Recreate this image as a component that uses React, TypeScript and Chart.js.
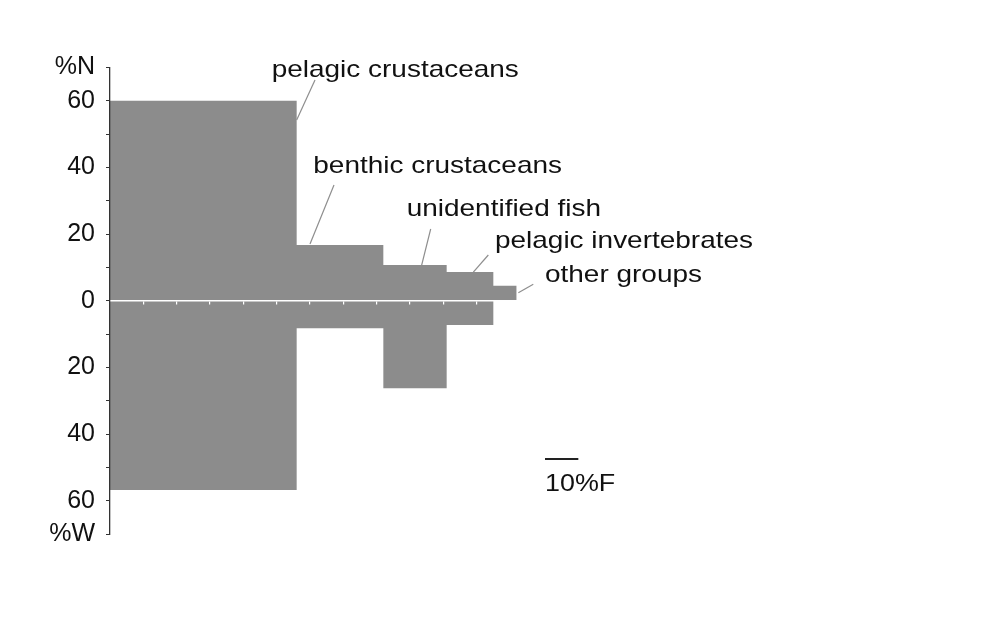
import React, { useEffect, useRef } from 'react';
import { Chart, registerables } from 'chart.js';

Chart.register(...registerables);

// ---- data ----
const categories = [
  'pelagic crustaceans',
  'benthic crustaceans',
  'unidentified fish',
  'pelagic invertebrates',
  'other groups',
];
const freqF = [56, 26, 19, 14, 7]; // %F (bar widths)
const numN = [60, 16.7, 10.7, 8.6, 4.5]; // %N (upwards)
const weightW = [56.8, 8.3, 26.3, 7.3, 0]; // %W (downwards)
const yTickLabels: Record<string, string> = {
  '70': '%N', '60': '60', '40': '40', '20': '20', '0': '0',
  '-20': '20', '-40': '40', '-60': '60', '-70': '%W',
};
const scaleBarF = 10;
const scaleBarLabel = '10%F';

// ---- layout for annotations (canvas px; anchors in data units) ----
const labelLayout = [
  { anchor: [56, 54.2], end: [307, 72], pos: [263.7, 68.5] },
  { anchor: [60, 17.0], end: [326, 177], pos: [305.3, 165.3] },
  { anchor: [93.5, 10.7], end: [422.7, 221], pos: [398.7, 207.5] },
  { anchor: [109, 8.6], end: [480.3, 247], pos: [487, 240.3] },
  { anchor: [122.5, 2.4], end: [525.3, 276.3], pos: [537, 273.7] },
];
const scaleBarPos = { x: 537, y: 451, textY: 483 };

function stepPoints(vals: number[], sign: number) {
  const pts: { x: number; y: number }[] = [];
  let cum = 0;
  vals.forEach((v, i) => {
    pts.push({ x: cum, y: sign * v });
    cum += freqF[i];
  });
  pts.push({ x: cum, y: sign * vals[vals.length - 1] });
  return pts;
}

const FONT = '"Liberation Sans", Arial, sans-serif';
const TEXT = '#111111';

const annotationPlugin = {
  id: 'annotations',
  afterDraw(chart: any) {
    const ctx = chart.ctx;
    const xs = chart.scales.x;
    const ys = chart.scales.y;
    ctx.save();
    ctx.font = `24px ${FONT}`;
    ctx.textBaseline = 'alphabetic';
    ctx.textAlign = 'left';
    labelLayout.forEach((l, i) => {
      ctx.strokeStyle = '#8e8e8e';
      ctx.lineWidth = 1.2;
      ctx.beginPath();
      ctx.moveTo(xs.getPixelForValue(l.anchor[0]), ys.getPixelForValue(l.anchor[1]));
      ctx.lineTo(l.end[0], l.end[1]);
      ctx.stroke();
      ctx.save();
      ctx.translate(l.pos[0], l.pos[1]);
      ctx.scale(1.165, 1);
      ctx.fillStyle = TEXT;
      ctx.fillText(categories[i], 0, 0);
      ctx.restore();
    });
    // scale bar
    const len = xs.getPixelForValue(scaleBarF) - xs.getPixelForValue(0);
    ctx.strokeStyle = '#222222';
    ctx.lineWidth = 2;
    ctx.beginPath();
    ctx.moveTo(scaleBarPos.x, scaleBarPos.y);
    ctx.lineTo(scaleBarPos.x + len, scaleBarPos.y);
    ctx.stroke();
    ctx.save();
    ctx.translate(scaleBarPos.x, scaleBarPos.textY);
    ctx.scale(1.12, 1);
    ctx.fillStyle = TEXT;
    ctx.fillText(scaleBarLabel, 0, 0);
    ctx.restore();
    ctx.restore();
  },
};

export default function App() {
  const ref = useRef<HTMLCanvasElement | null>(null);
  useEffect(() => {
    if (!ref.current) return;
    const chart = new Chart(ref.current, {
      type: 'line',
      data: {
        datasets: [
          {
            label: '%N',
            data: stepPoints(numN, 1),
            stepped: 'before',
            fill: 'origin',
            backgroundColor: '#8c8c8c',
            borderColor: '#8c8c8c',
            borderWidth: 0,
            pointRadius: 0,
          },
          {
            label: '%W',
            data: stepPoints(weightW, -1),
            stepped: 'before',
            fill: 'origin',
            backgroundColor: '#8c8c8c',
            borderColor: '#8c8c8c',
            borderWidth: 0,
            pointRadius: 0,
          },
        ],
      } as any,
      options: {
        animation: false,
        responsive: false,
        layout: { padding: { left: 0, top: 59.4, right: 64, bottom: 84 } },
        plugins: { legend: { display: false }, tooltip: { enabled: false } },
        scales: {
          x: {
            type: 'linear',
            min: 0,
            max: 240,
            position: { y: 0 } as any,
            ticks: { display: false, stepSize: 10, z: 1 },
            grid: {
              display: true,
              drawOnChartArea: false,
              drawTicks: true,
              tickLength: 3,
              lineWidth: 1.2,
              z: 1,
              color: (c: any) => (c.tick && c.tick.value > 0 ? '#ffffff' : 'rgba(0,0,0,0)'),
            },
            border: { display: true, color: '#ffffff', width: 1.6, z: 1 },
          },
          y: {
            type: 'linear',
            min: -70,
            max: 70,
            afterFit: (s: any) => {
              s.width = 102;
            },
            ticks: {
              stepSize: 10,
              autoSkip: false,
              padding: 11,
              color: TEXT,
              z: 2,
              font: { family: FONT, size: 25 },
              callback: (v: any) => yTickLabels[String(v)] ?? '',
            },
            grid: {
              display: true,
              drawOnChartArea: false,
              drawTicks: true,
              tickLength: 4,
              color: '#333333',
              z: 2,
            },
            border: { display: true, color: '#333333', width: 1.3, z: 2 },
          },
        },
      } as any,
      plugins: [annotationPlugin],
    });
    return () => chart.destroy();
  }, []);
  return (
    <div style={{ width: 966, height: 610, background: '#ffffff' }}>
      <canvas ref={ref} width={966} height={610} style={{ display: 'block' }} />
    </div>
  );
}
